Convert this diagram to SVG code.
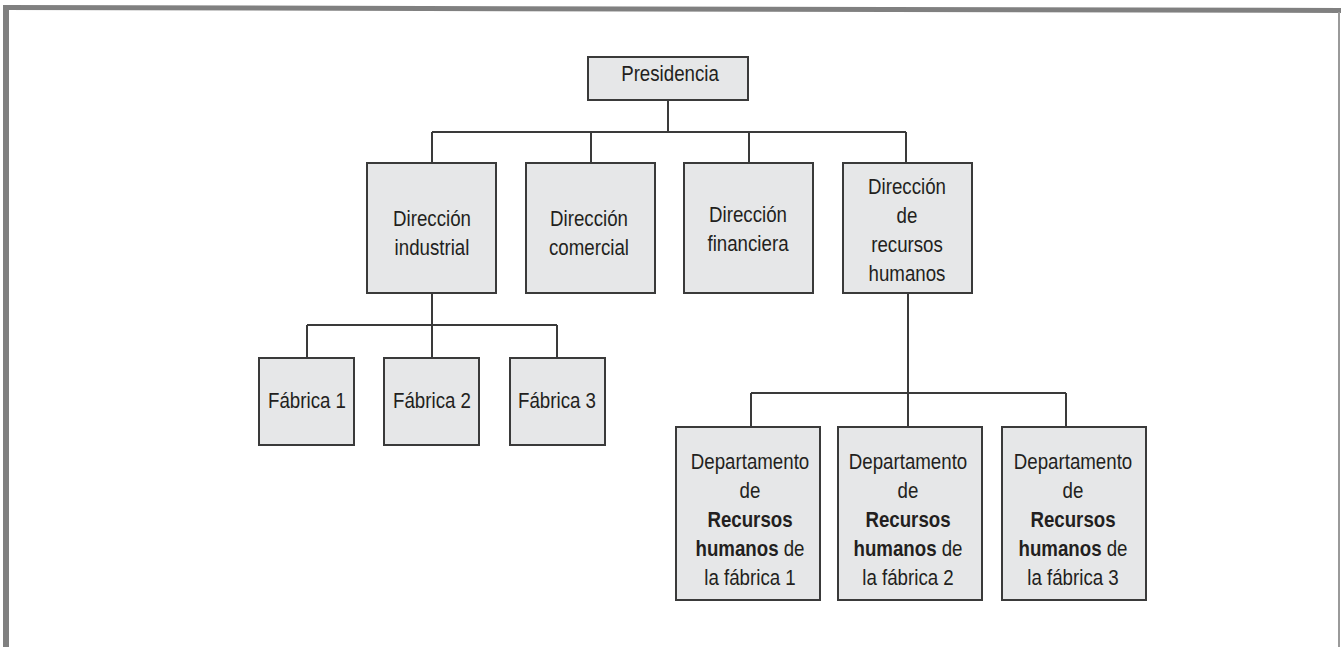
<svg xmlns="http://www.w3.org/2000/svg" width="1341" height="647" viewBox="0 0 1341 647">
<style>
.box{fill:#e6e7e8;stroke:#3a3a3a;stroke-width:2}
.ln{fill:none;stroke:#3a3a3a;stroke-width:2}
.t{font-family:"Liberation Sans",Arial,sans-serif;font-size:22px;fill:#231f20;text-anchor:middle}
.b{font-weight:bold}
.frame{fill:#808080}
</style>
<rect width="1341" height="647" fill="#ffffff"/>
<g id="frame">
<polygon class="frame" points="3,5 1341,8 1341,13 3,10"/>
<rect class="frame" x="3" y="5" width="6" height="642"/>
<line x1="1339" y1="12" x2="1339" y2="647" stroke="#9a9a9a" stroke-width="2"/>
</g>
<g id="connectors">
<path class="ln" d="M668,100 V132 M432,132 H906 M432,132 V163 M591,132 V163 M749,132 V163 M906,132 V163"/>
<path class="ln" d="M432,293 V325 M307,325 H557 M307,325 V358 M432,325 V358 M557,325 V358"/>
<path class="ln" d="M908,293 V393 M751,393 H1066 M751,393 V427 M908,393 V427 M1066,393 V427"/>
</g>
<g id="presidencia">
<rect class="box" x="588" y="57" width="160" height="43"/>
<text class="t" transform="translate(670 0) scale(0.85 1)" x="0" y="81">Presidencia</text>
</g>
<g id="dir-industrial">
<rect class="box" x="367" y="163" width="129" height="130"/>
<text class="t" transform="translate(432 0) scale(0.85 1)" x="0" y="226">Dirección</text>
<text class="t" transform="translate(432 0) scale(0.85 1)" x="0" y="255">industrial</text>
</g>
<g id="dir-comercial">
<rect class="box" x="526" y="163" width="129" height="130"/>
<text class="t" transform="translate(589 0) scale(0.85 1)" x="0" y="226">Dirección</text>
<text class="t" transform="translate(589 0) scale(0.85 1)" x="0" y="255">comercial</text>
</g>
<g id="dir-financiera">
<rect class="box" x="684" y="163" width="129" height="130"/>
<text class="t" transform="translate(748 0) scale(0.85 1)" x="0" y="222">Dirección</text>
<text class="t" transform="translate(748 0) scale(0.85 1)" x="0" y="251">financiera</text>
</g>
<g id="dir-rrhh">
<rect class="box" x="843" y="163" width="129" height="130"/>
<text class="t" transform="translate(907 0) scale(0.85 1)" x="0" y="194">Dirección</text>
<text class="t" transform="translate(907 0) scale(0.85 1)" x="0" y="223">de</text>
<text class="t" transform="translate(907 0) scale(0.85 1)" x="0" y="252">recursos</text>
<text class="t" transform="translate(907 0) scale(0.85 1)" x="0" y="281">humanos</text>
</g>
<g id="fabrica-1">
<rect class="box" x="259" y="358" width="95" height="87"/>
<text class="t" transform="translate(307 0) scale(0.85 1)" x="0" y="408">Fábrica 1</text>
</g>
<g id="fabrica-2">
<rect class="box" x="384" y="358" width="95" height="87"/>
<text class="t" transform="translate(432 0) scale(0.85 1)" x="0" y="408">Fábrica 2</text>
</g>
<g id="fabrica-3">
<rect class="box" x="510" y="358" width="95" height="87"/>
<text class="t" transform="translate(557 0) scale(0.85 1)" x="0" y="408">Fábrica 3</text>
</g>
<g id="depto-rrhh-1">
<rect class="box" x="676" y="427" width="144" height="173"/>
<text class="t" transform="translate(750 0) scale(0.85 1)" x="0" y="469">Departamento</text>
<text class="t" transform="translate(750 0) scale(0.85 1)" x="0" y="498">de</text>
<text class="t b" transform="translate(750 0) scale(0.85 1)" x="0" y="527">Recursos</text>
<text class="t" transform="translate(750 0) scale(0.85 1)" x="0" y="556"><tspan class="b">humanos</tspan> de</text>
<text class="t" transform="translate(750 0) scale(0.85 1)" x="0" y="585">la fábrica 1</text>
</g>
<g id="depto-rrhh-2">
<rect class="box" x="838" y="427" width="144" height="173"/>
<text class="t" transform="translate(908 0) scale(0.85 1)" x="0" y="469">Departamento</text>
<text class="t" transform="translate(908 0) scale(0.85 1)" x="0" y="498">de</text>
<text class="t b" transform="translate(908 0) scale(0.85 1)" x="0" y="527">Recursos</text>
<text class="t" transform="translate(908 0) scale(0.85 1)" x="0" y="556"><tspan class="b">humanos</tspan> de</text>
<text class="t" transform="translate(908 0) scale(0.85 1)" x="0" y="585">la fábrica 2</text>
</g>
<g id="depto-rrhh-3">
<rect class="box" x="1002" y="427" width="144" height="173"/>
<text class="t" transform="translate(1073 0) scale(0.85 1)" x="0" y="469">Departamento</text>
<text class="t" transform="translate(1073 0) scale(0.85 1)" x="0" y="498">de</text>
<text class="t b" transform="translate(1073 0) scale(0.85 1)" x="0" y="527">Recursos</text>
<text class="t" transform="translate(1073 0) scale(0.85 1)" x="0" y="556"><tspan class="b">humanos</tspan> de</text>
<text class="t" transform="translate(1073 0) scale(0.85 1)" x="0" y="585">la fábrica 3</text>
</g>
</svg>
